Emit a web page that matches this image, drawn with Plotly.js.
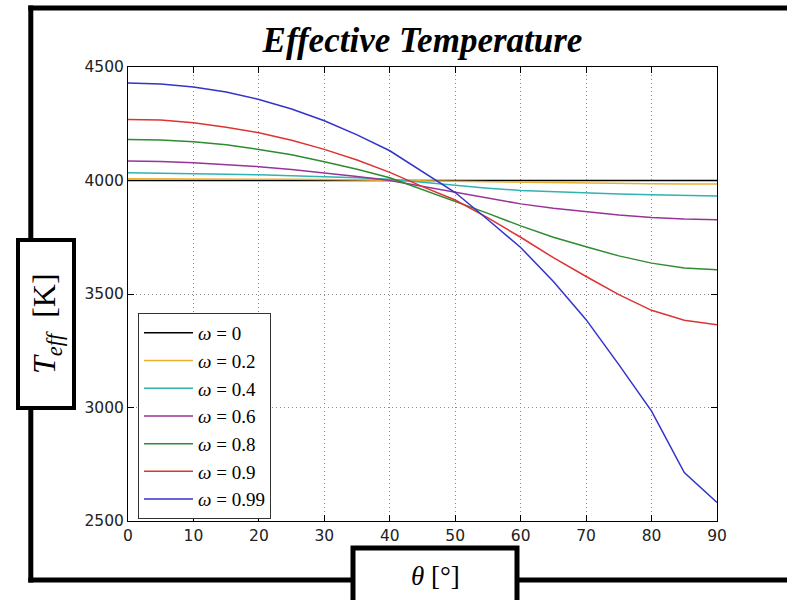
<!DOCTYPE html>
<html>
<head>
<meta charset="utf-8">
<script src="https://cdn.plot.ly/plotly-3.0.1.min.js"></script>
<style>html,body{margin:0;padding:0;background:#fff;overflow:hidden;}#chart{width:787px;height:600px;}</style>
</head>
<body>
<div id="chart"></div>
<script>
// ---- data ----
const theta = [0,5,10,15,20,25,30,35,40,45,50,55,60,65,70,75,80,85,90];
const omegaLabels = ["0","0.2","0.4","0.6","0.8","0.9","0.99"];
const tW0    = [4000,4000,4000,4000,4000,4000,4000,4000,4000,4000,4000,4000,4000,4000,4000,4000,4000,4000,4000];
const tW02   = [4008,4008,4008,4007,4006,4005,4004,4002,4000,3997,3995,3993,3991,3989,3988,3987,3986,3985,3985];
const tW04   = [4034,4033,4031,4028,4025,4021,4017,4012,4005,3992,3978,3966,3956,3950,3945,3941,3937,3934,3932];
const tW06   = [4086,4084,4078,4071,4061,4049,4034,4018,4000,3975,3948,3922,3897,3878,3862,3848,3837,3830,3827];
const tW08   = [4181,4178,4171,4157,4137,4113,4083,4050,4012,3960,3907,3855,3800,3750,3708,3668,3636,3615,3607];
const tW09   = [4269,4266,4254,4235,4210,4177,4137,4090,4036,3973,3914,3835,3750,3660,3577,3497,3428,3384,3365];
const tW099  = [4430,4425,4412,4390,4357,4315,4263,4201,4131,4040,3947,3827,3705,3555,3387,3189,2984,2713,2582];
const xTicks = [0,10,20,30,40,50,60,70,80,90];
const yTicks = [2500,3000,3500,4000,4500];

const series = [tW0, tW02, tW04, tW06, tW08, tW09, tW099];
const colors = ["#000000","#e8b030","#2fb3b3","#993399","#2e8b2e","#dd3333","#3333cc"];

// ---- layout geometry (pixels) ----
const W = 787, H = 600;
const L = 128, R = 717, T = 67, B = 521;
const px = v => (v - L) / (R - L);
const py = v => (B - v) / (B - T);

const traces = series.map((s, i) => ({
  x: theta, y: s, type: "scatter", mode: "lines",
  name: "<i>ω</i> = " + omegaLabels[i],
  line: {color: colors[i], width: 1.5}
}));

const serif = "'Liberation Serif', 'DejaVu Serif', serif";
const tickFont = {family: "'DejaVu Sans', sans-serif", size: 15.5, color: "#222"};

// solid black bar (filled rectangle, no outline)
function bar(x0, x1, y0, y1) {
  return {type: "rect", xref: "paper", yref: "paper",
          x0: px(x0), x1: px(x1), y0: py(y0), y1: py(y1),
          line: {width: 0}, fillcolor: "#000", layer: "above"};
}

const gridStyle = {showgrid: true, gridcolor: "#8a8a8a", griddash: "1px,3px", gridwidth: 1};

const layout = {
  width: W, height: H,
  margin: {l: L, r: W - R, t: T, b: H - B, pad: 0},
  paper_bgcolor: "#fff", plot_bgcolor: "#fff",
  showlegend: true,
  title: {
    text: "Effective Temperature",
    x: 0.5, xref: "paper", xanchor: "center",
    y: 1 - 40 / H, yref: "container", yanchor: "middle",
    font: {family: serif, size: 35, style: "italic", weight: "bold", color: "#000"}
  },
  xaxis: Object.assign({
    range: [0, 90], tickvals: xTicks, ticktext: xTicks.map(String),
    zeroline: false, showline: true, linecolor: "#000", linewidth: 1, mirror: "allticks",
    ticks: "inside", ticklen: 6, tickcolor: "#000", tickwidth: 1,
    tickfont: tickFont
  }, gridStyle),
  yaxis: Object.assign({
    range: [2500, 4500], tickvals: yTicks, ticktext: yTicks.map(String),
    zeroline: false, showline: true, linecolor: "#000", linewidth: 1, mirror: "allticks",
    ticks: "inside", ticklen: 6, tickcolor: "#000", tickwidth: 1,
    tickfont: tickFont
  }, gridStyle),
  legend: {
    x: px(138), y: py(313), xanchor: "left", yanchor: "top",
    bgcolor: "#fff", bordercolor: "#333", borderwidth: 1,
    font: {family: serif, size: 19, color: "#000"},
    itemwidth: 49
  },
  shapes: [
    // outer frame: left, top and bottom bars, open to the right
    bar(28.3, W, 5.5, 10.5),
    bar(28.3, W, 577.5, 582.5),
    bar(28.3, 33.3, 5.5, 582.5),
    // y label box
    {type: "rect", xref: "paper", yref: "paper",
     x0: px(18), x1: px(74), y0: py(240), y1: py(408),
     line: {color: "#000", width: 4}, fillcolor: "#fff", layer: "above"},
    // x label box
    {type: "rect", xref: "paper", yref: "paper",
     x0: px(353), x1: px(517), y0: py(548), y1: py(640),
     line: {color: "#000", width: 5}, fillcolor: "#fff", layer: "above"}
  ],
  annotations: [
    {xref: "paper", yref: "paper", x: px(46), y: py(324), xanchor: "center", yanchor: "middle",
     text: "<i>T</i><sub><i>eff</i></sub>\u2002[K]", textangle: -90, showarrow: false,
     font: {family: serif, size: 32, color: "#000"}},
    {xref: "paper", yref: "paper", x: px(435), y: py(576), xanchor: "center", yanchor: "middle",
     text: "<i>θ</i> [°]", showarrow: false,
     font: {family: serif, size: 27, color: "#000"}}
  ]
};

Plotly.newPlot("chart", traces, layout, {displayModeBar: false, staticPlot: true});
</script>
</body>
</html>
